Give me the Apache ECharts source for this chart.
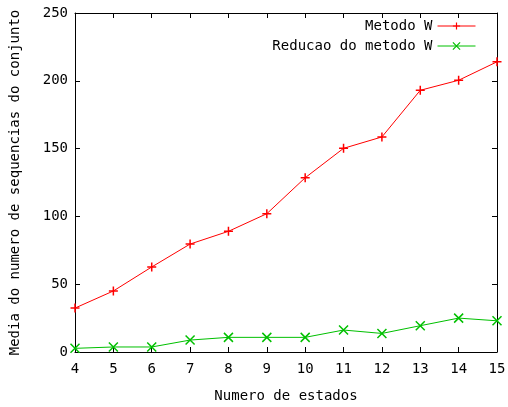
<!DOCTYPE html>
<html>
<head>
<meta charset="utf-8">
<script src="https://cdn.jsdelivr.net/npm/echarts@6/dist/echarts.min.js"></script>
<style>html,body{margin:0;padding:0;background:#fff}#c{width:508px;height:407px}</style>
</head>
<body>
<div id="c"></div>
<script>
var estados = [4, 5, 6, 7, 8, 9, 10, 11, 12, 13, 14, 15];
var metodoW = [32.4, 45, 62.7, 79.6, 89, 102, 128.5, 150.2, 158.6, 193, 200.4, 214];
var reducaoW = [2.7, 3.7, 3.7, 8.8, 10.8, 10.8, 10.8, 16.2, 13.7, 19.4, 25, 23];
var yTicks = [0, 50, 100, 150, 200, 250];

var FONT = 'DejaVu Sans Mono';
function pairs(ys) { return estados.map(function (x, i) { return [x, ys[i]]; }); }
var plus = 'path://M0,5L10,5M5,0L5,10';
var cross = 'path://M0,0L10,10M10,0L0,10';

var chart = echarts.init(document.getElementById('c'), null, {renderer: 'canvas'});
var axisText = {color: '#000', fontFamily: FONT, fontSize: 14};
chart.setOption({
  animation: false,
  backgroundColor: '#fff',
  textStyle: {fontFamily: FONT},
  grid: {left: 75, right: 11, top: 13, bottom: 55, containLabel: false, outerBoundsMode: 'none'},
  legend: {
    orient: 'vertical', right: 27, top: 14, align: 'right',
    itemWidth: 38, itemHeight: 9, itemGap: 6,
    lineStyle: {width: 1},
    itemStyle: {borderWidth: 1.2},
    textStyle: {color: '#000', fontFamily: FONT, fontSize: 14, padding: [0, 0, 0, 0]},
    data: ['Metodo W', 'Reducao do metodo W']
  },
  xAxis: [{
    type: 'value', min: 4, max: 15, interval: 1,
    name: 'Numero de estados', nameLocation: 'middle', nameGap: 37,
    nameTextStyle: axisText,
    axisLine: {show: true, lineStyle: {color: '#000', width: 1}},
    axisTick: {show: true, inside: true, length: 5, lineStyle: {color: '#000'}},
    axisLabel: {color: '#000', fontFamily: FONT, fontSize: 14, margin: 10},
    splitLine: {show: false}
  }, {
    type: 'value', min: 4, max: 15, interval: 1, position: 'top',
    axisLine: {show: true, onZero: false, lineStyle: {color: '#000', width: 1}},
    axisTick: {show: true, inside: true, length: 5, lineStyle: {color: '#000'}},
    axisLabel: {show: false}, splitLine: {show: false}
  }],
  yAxis: [{
    type: 'value', min: 0, max: 250, interval: 50,
    name: 'Media do numero de sequencias do conjunto', nameLocation: 'middle', nameGap: 53,
    nameTextStyle: axisText,
    axisLine: {show: true, lineStyle: {color: '#000', width: 1}},
    axisTick: {show: true, inside: true, length: 5, lineStyle: {color: '#000'}},
    axisLabel: {color: '#000', fontFamily: FONT, fontSize: 14, margin: 7,
      formatter: function (v) { return yTicks.indexOf(v) >= 0 ? String(v) : ''; }},
    splitLine: {show: false}
  }, {
    type: 'value', min: 0, max: 250, interval: 50, position: 'right',
    axisLine: {show: true, onZero: false, lineStyle: {color: '#000', width: 1}},
    axisTick: {show: true, inside: true, length: 5, lineStyle: {color: '#000'}},
    axisLabel: {show: false}, splitLine: {show: false}
  }],
  series: [{
    name: 'Metodo W', type: 'line', data: pairs(metodoW),
    symbol: plus, symbolSize: 9, showAllSymbol: true,
    lineStyle: {color: '#ff0000', width: 1},
    itemStyle: {color: '#ff0000', borderColor: '#ff0000', borderWidth: 1.5},
    z: 3
  }, {
    name: 'Reducao do metodo W', type: 'line', data: pairs(reducaoW),
    symbol: cross, symbolSize: 9, showAllSymbol: true,
    lineStyle: {color: '#00c000', width: 1},
    itemStyle: {color: '#00c000', borderColor: '#00c000', borderWidth: 1.5},
    z: 3
  }]
});
</script>
</body>
</html>
